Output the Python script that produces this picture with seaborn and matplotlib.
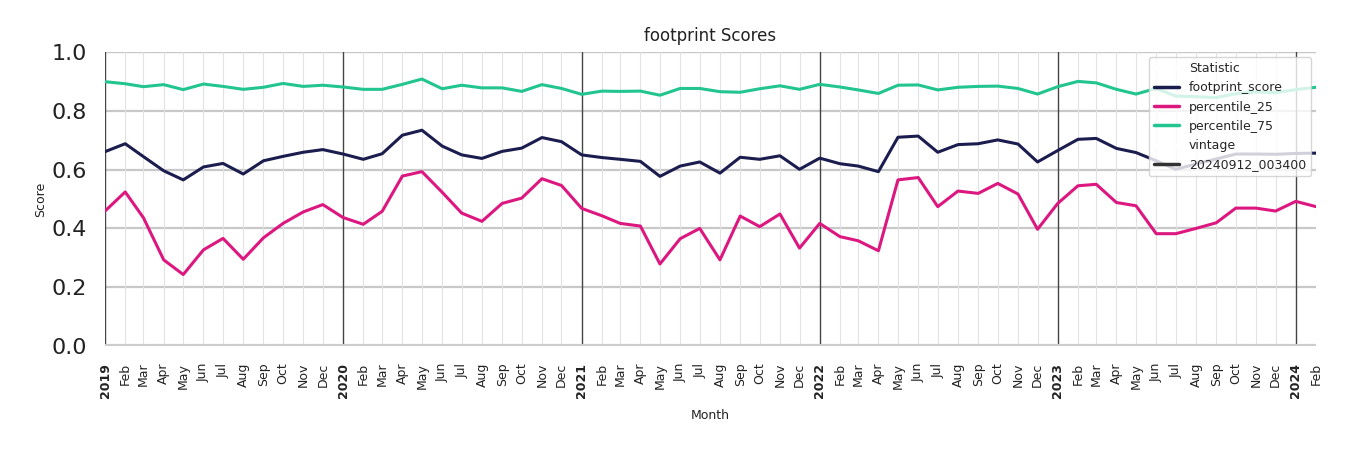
import matplotlib
matplotlib.use("Agg")
import matplotlib.pyplot as plt
import seaborn as sns
import pandas as pd
import numpy as np

months = pd.date_range("2019-01-01", "2024-02-01", freq="MS")

footprint_score = [
    0.661, 0.688, 0.644, 0.596, 0.565, 0.609, 0.621, 0.585, 0.630, 0.645, 0.659, 0.668,
    0.653, 0.635, 0.654, 0.717, 0.734, 0.680, 0.650, 0.638, 0.662, 0.673, 0.709, 0.695,
    0.650, 0.641, 0.635, 0.628, 0.577, 0.612, 0.626, 0.588, 0.642, 0.635, 0.647, 0.601,
    0.639, 0.620, 0.612, 0.593, 0.710, 0.714, 0.659, 0.685, 0.688, 0.701, 0.687, 0.626,
    0.665, 0.703, 0.706, 0.672, 0.658, 0.630, 0.601, 0.619, 0.636, 0.653, 0.653, 0.652,
    0.655, 0.656,
]
percentile_25 = [
    0.459, 0.524, 0.436, 0.293, 0.243, 0.327, 0.366, 0.295, 0.368, 0.417, 0.456, 0.481,
    0.437, 0.414, 0.458, 0.578, 0.593, 0.523, 0.452, 0.424, 0.485, 0.503, 0.569, 0.546,
    0.468, 0.443, 0.417, 0.408, 0.279, 0.365, 0.400, 0.293, 0.442, 0.406, 0.449, 0.333,
    0.417, 0.372, 0.358, 0.324, 0.565, 0.573, 0.474, 0.527, 0.519, 0.553, 0.517, 0.397,
    0.485, 0.545, 0.550, 0.488, 0.477, 0.382, 0.382, 0.400, 0.419, 0.469, 0.469, 0.459,
    0.492, 0.474,
]
percentile_75 = [
    0.899, 0.892, 0.882, 0.889, 0.872, 0.891, 0.883, 0.873, 0.880, 0.893, 0.883, 0.887,
    0.881, 0.873, 0.873, 0.890, 0.908, 0.875, 0.887, 0.878, 0.878, 0.866, 0.889, 0.876,
    0.856, 0.867, 0.866, 0.867, 0.853, 0.876, 0.876, 0.865, 0.863, 0.875, 0.885, 0.873,
    0.890, 0.881, 0.871, 0.859, 0.887, 0.888, 0.871, 0.880, 0.883, 0.884, 0.876, 0.857,
    0.882, 0.900, 0.895, 0.873, 0.857, 0.876, 0.850, 0.848, 0.845, 0.858, 0.864, 0.862,
    0.872, 0.880,
]
statistics = ["footprint_score", "percentile_25", "percentile_75"]
vintage = "20240912_003400"
colors = ["#1c1d4f", "#dc177f", "#22c48f"]

series = {"footprint_score": footprint_score,
          "percentile_25": percentile_25,
          "percentile_75": percentile_75}
df = pd.concat([
    pd.DataFrame({"Month": months, "Score": vals, "Statistic": name, "vintage": vintage})
    for name, vals in series.items()
], ignore_index=True)

sns.set_theme(style="white")
plt.rcParams["font.family"] = ["DejaVu Sans"]

fig = plt.figure(figsize=(13.5, 4.5), dpi=100)
ax = fig.add_axes([105/1350, 1-346/450, (1316-105)/1350, (346-52)/450])

sns.lineplot(data=df, x="Month", y="Score", hue="Statistic", style="vintage",
             palette=colors, hue_order=statistics, linewidth=2.2, ax=ax, zorder=5)

ax.set_xlim(months[0], months[-1])
ax.set_ylim(0, 1.0)
ax.set_yticks([0, 0.2, 0.4, 0.6, 0.8, 1.0])
ax.set_yticklabels(["0.0", "0.2", "0.4", "0.6", "0.8", "1.0"], fontsize=16, color="#222222")

ax.set_xticks(months)
labels = [str(m.year) if m.month == 1 else m.strftime("%b") for m in months]
ax.set_xticklabels(labels, rotation=90, fontsize=9, color="#222222")
for t, m in zip(ax.get_xticklabels(), months):
    if m.month == 1:
        t.set_fontweight("bold")
ax.tick_params(axis="y", length=0, pad=13)
ax.tick_params(axis="x", length=0, pad=12)

for y in [0, 0.2, 0.4, 0.6, 0.8, 1.0]:
    ax.axhline(y, color="#c8c8c8", lw=1.6 if y < 1.0 else 1.0, zorder=1)
for m in months:
    if m.month == 1:
        ax.axvline(m, color="#444444", lw=1.0, zorder=2)
    else:
        ax.axvline(m, color="#e2e2e2", lw=0.8, zorder=1)
ax.axhline(0, color="#cccccc", lw=3, zorder=3)

for s in ax.spines.values():
    s.set_visible(False)

ax.set_title("footprint Scores", fontsize=12, color="#222222", pad=8)
ax.set_xlabel("Month", fontsize=9, color="#222222", labelpad=8)
ax.set_ylabel("Score", fontsize=9, color="#222222", labelpad=3)

leg = ax.legend(loc="upper right", fontsize=9, frameon=True, framealpha=0.8,
                borderaxespad=0.4)
leg.get_frame().set_edgecolor("#cccccc")
for line in leg.get_lines():
    line.set_linewidth(2.5)

fig.savefig("out.png", dpi=100)
